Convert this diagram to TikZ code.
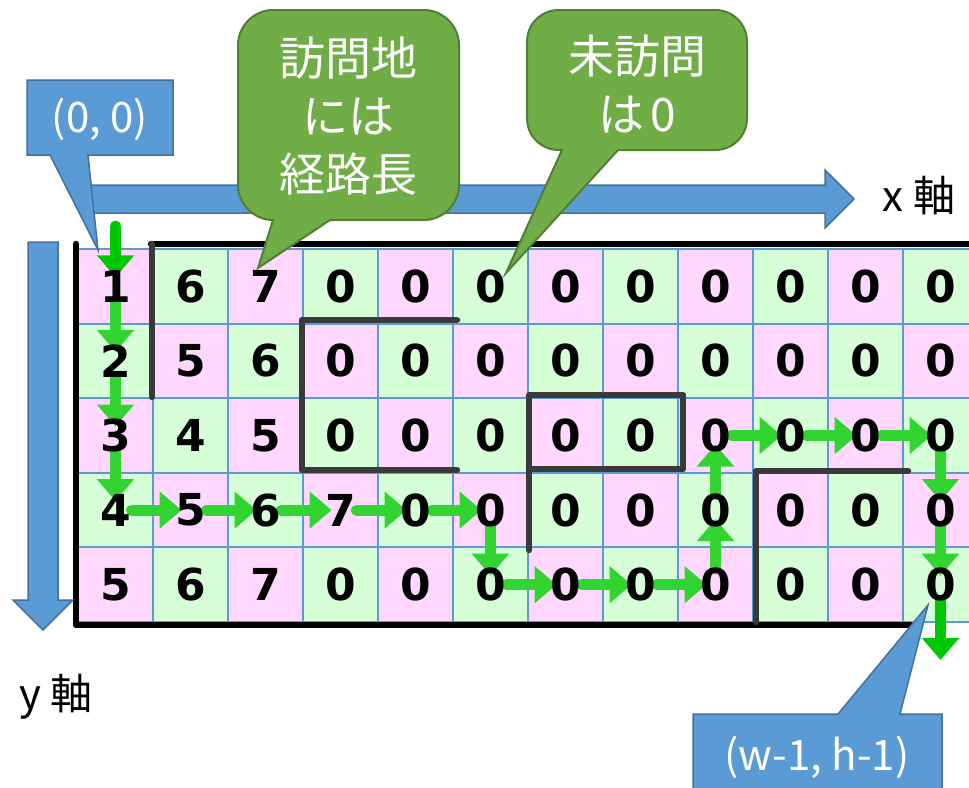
\documentclass[tikz,border=0pt]{standalone}
\usepackage{fontspec}
\setmainfont{DejaVu Sans}
\newfontfamily\jpfont{Noto Sans CJK JP}
\usetikzlibrary{arrows.meta}
\definecolor{cpink}{HTML}{FFD7FF}
\definecolor{cgreen}{HTML}{D7FFD7}
\definecolor{gridblue}{HTML}{5B9BD5}
\definecolor{bluefill}{HTML}{5B9BD5}
\definecolor{blueedge}{HTML}{41719C}
\definecolor{greenfill}{HTML}{70AD47}
\definecolor{greenedge}{HTML}{507E32}
\definecolor{pathgreen}{RGB}{50,212,50}
\definecolor{darkpath}{RGB}{0,200,0}
\definecolor{wallgray}{HTML}{3A3A3A}
\pgfdeclarelayer{bg}
\pgfdeclarelayer{mid}
\pgfdeclarelayer{top}
\pgfsetlayers{bg,mid,main,top}
\begin{document}
\begin{tikzpicture}[x=1pt,y=-1pt,
  cellnode/.style={minimum width=75pt, minimum height=74.6pt, inner sep=0pt,
    font=\fontsize{44}{44}\selectfont\bfseries},
  seg/.style={line width=11pt, draw=pathgreen, line cap=round,
    -{Triangle[length=22pt,width=36pt]}, shorten <=16pt, shorten >=9pt},
  wall/.style={line width=6.5pt, draw=wallgray, line cap=round, line join=round},
  outerwall/.style={line width=6.5pt, draw=black, line cap=round, line join=round},
  gridline/.style={line width=2pt, draw=gridblue},
  bluecall/.style={fill=bluefill, draw=blueedge, line width=1.5pt, line join=miter},
  greencall/.style={fill=greenfill, draw=greenedge, line width=2pt, line join=miter},
  calltext/.style={text=white, font=\jpfont\fontsize{46}{58}\selectfont, align=center, inner sep=0pt},
  bluetext/.style={text=white, font=\jpfont\fontsize{42}{42}\selectfont, inner sep=0pt},
  axtext/.style={font=\jpfont\fontsize{42}{42}\selectfont, inner sep=0pt},
  blockarrow/.style={fill=bluefill, draw=blueedge, line width=1.5pt, line join=miter}]
\useasboundingbox (0,0) rectangle (969,787);

% ---------- cells ----------
\foreach \row [count=\ri from 0] in {{1,6,7,0,0,0,0,0,0,0,0,0},{2,5,6,0,0,0,0,0,0,0,0,0},{3,4,5,0,0,0,0,0,0,0,0,0},{4,5,6,7,0,0,0,0,0,0,0,0},{5,6,7,0,0,0,0,0,0,0,0,0}}{
  \foreach \d [count=\ci from 0] in \row {
    \pgfmathsetmacro\xx{115.5+75*\ci}
    \pgfmathsetmacro\yy{286.3+74.6*\ri}
    \pgfmathtruncatemacro\pp{mod(\ri+\ci,2)}
    \ifnum\pp=0 \def\cc{cpink}\else\def\cc{cgreen}\fi
    \node[cellnode] (n-\ri-\ci) at (\xx,\yy) {\d};
    \begin{pgfonlayer}{bg}
      \fill[\cc] (n-\ri-\ci.north west) rectangle (n-\ri-\ci.south east);
    \end{pgfonlayer}
  }
}

\begin{pgfonlayer}{bg}
  % grid lines
  \foreach \k in {0,...,12} \draw[gridline] (78+75*\k,249) -- (78+75*\k,622);
  \foreach \k in {0,...,5} \draw[gridline] (78,249+74.6*\k) -- (978,249+74.6*\k);
  % outer walls
  \draw[outerwall] (76,244) -- (76,625) -- (910,625);
  \draw[outerwall] (151,244) -- (990,244);
  % inner walls
  \draw[wall] (152,244) -- (152,397);
  \draw[wall] (457,320) -- (302,320) -- (302,470) -- (457,470);
  \draw[wall] (529,550) -- (529,395) -- (683,395) -- (683,469) -- (529,469);
  \draw[wall] (908,471) -- (756,471) -- (756,622);
  % axis arrows
  \filldraw[blockarrow] (80,185) -- (825,185) -- (825,170) -- (854,199) -- (825,228) -- (825,213) -- (80,213) -- cycle;
  \filldraw[blockarrow] (28,242) -- (58,242) -- (58,600) -- (73,600) -- (43,630) -- (13,600) -- (28,600) -- cycle;
\end{pgfonlayer}

\node[axtext] (xlab) at (919,196) {x 軸};
\node[axtext] (ylab) at (56,697) {y 軸};

% ---------- path arrows ----------
\coordinate (entry) at (115.5,226);
\coordinate (exit) at (940.5,660);
\begin{pgfonlayer}{mid}
  \draw[seg, draw=darkpath, shorten <=0pt] (entry) -- (n-0-0.center);
  \foreach \a/\b in {0-0/1-0, 1-0/2-0, 2-0/3-0, 3-0/3-1, 3-1/3-2, 3-2/3-3, 3-3/3-4, 3-4/3-5, 3-5/4-5, 4-5/4-6, 4-6/4-7, 4-7/4-8, 4-8/3-8, 3-8/2-8, 2-8/2-9, 2-9/2-10, 2-10/2-11, 2-11/3-11, 3-11/4-11}
    \draw[seg] (n-\a.center) -- (n-\b.center);
  \draw[seg, draw=darkpath, shorten >=0pt] (n-4-11.center) -- (exit);
\end{pgfonlayer}

% ---------- callouts ----------
\begin{pgfonlayer}{top}
  \filldraw[bluecall] (27,80) -- (173,80) -- (173,155) -- (88,155) -- (98,250) -- (50,155) -- (27,155) -- cycle;
  \node[bluetext] (c00) at (100,119) {(0, 0)};
  \filldraw[greencall] (273,10) -- (424,10) .. controls (443,10) and (459,26) .. (459,45)
     -- (459,185) .. controls (459,204) and (443,220) .. (424,220)
     -- (330,220) -- (258,268) -- (273,220)
     .. controls (254,220) and (238,204) .. (238,185)
     -- (238,45) .. controls (238,26) and (254,10) .. (273,10) -- cycle;
  \node[calltext] (cvisit) at (348,116) {訪問地\\には\\経路長};
  \filldraw[greencall] (559,10) -- (715,10) .. controls (733,10) and (747,24) .. (747,42)
     -- (747,118) .. controls (747,136) and (733,150) .. (715,150)
     -- (618,150) -- (506,273) -- (562,150) -- (559,150)
     .. controls (541,150) and (527,136) .. (527,118)
     -- (527,42) .. controls (527,24) and (541,10) .. (559,10) -- cycle;
  \node[calltext] (cunvisit) at (637,84) {未訪問\\は\kern0.12em 0};
  \filldraw[bluecall] (693,714) -- (838,714) -- (928,605) -- (900,714) -- (942,714) -- (942,795) -- (693,795) -- cycle;
  \node[bluetext] (cwh) at (817,757) {(w-1, h-1)};
\end{pgfonlayer}
\end{tikzpicture}
\end{document}
